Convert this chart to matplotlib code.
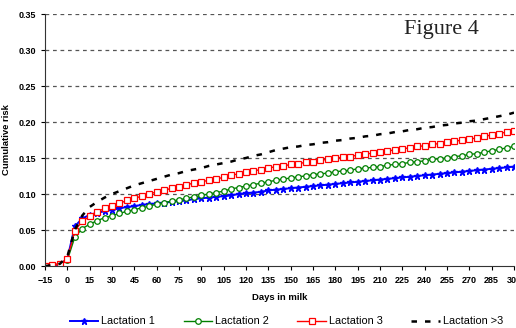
import numpy as np
import matplotlib
matplotlib.use("Agg")
from matplotlib import pyplot as plt

# days in milk, every 5 days from -15 to 300
days = list(range(-15, 301, 5))

lact1 = [0.000, 0.001, 0.002, 0.010, 0.055, 0.066, 0.071, 0.074, 0.076, 0.078,
         0.080, 0.082, 0.083, 0.085, 0.086, 0.087, 0.088, 0.089, 0.090, 0.091,
         0.093, 0.094, 0.095, 0.096, 0.097, 0.098, 0.100, 0.101, 0.102, 0.103,
         0.105, 0.106, 0.107, 0.108, 0.109, 0.110, 0.111, 0.112, 0.113, 0.114,
         0.115, 0.116, 0.117, 0.118, 0.119, 0.120, 0.121, 0.122, 0.123, 0.124,
         0.125, 0.126, 0.127, 0.128, 0.129, 0.130, 0.131, 0.132, 0.133, 0.134,
         0.135, 0.136, 0.137, 0.138]

lact2 = [0.000, 0.001, 0.003, 0.008, 0.040, 0.052, 0.058, 0.063, 0.067, 0.070,
         0.073, 0.076, 0.078, 0.081, 0.083, 0.086, 0.088, 0.090, 0.092, 0.094,
         0.096, 0.098, 0.100, 0.102, 0.104, 0.107, 0.109, 0.111, 0.113, 0.115,
         0.117, 0.119, 0.121, 0.122, 0.124, 0.125, 0.127, 0.128, 0.129, 0.131,
         0.132, 0.133, 0.135, 0.136, 0.137, 0.138, 0.140, 0.141, 0.142, 0.144,
         0.145, 0.146, 0.148, 0.149, 0.150, 0.152, 0.153, 0.155, 0.156, 0.158,
         0.160, 0.162, 0.164, 0.166]

lact3 = [0.000, 0.002, 0.003, 0.010, 0.049, 0.062, 0.069, 0.075, 0.080, 0.084,
         0.087, 0.091, 0.094, 0.097, 0.100, 0.103, 0.105, 0.108, 0.110, 0.113,
         0.115, 0.117, 0.119, 0.121, 0.123, 0.126, 0.128, 0.130, 0.132, 0.134,
         0.136, 0.138, 0.139, 0.141, 0.142, 0.144, 0.145, 0.147, 0.148, 0.150,
         0.151, 0.152, 0.154, 0.155, 0.157, 0.158, 0.160, 0.161, 0.163, 0.164,
         0.166, 0.167, 0.169, 0.170, 0.172, 0.173, 0.175, 0.176, 0.178, 0.180,
         0.182, 0.184, 0.186, 0.188]

lact4 = [0.000, 0.001, 0.003, 0.013, 0.050, 0.070, 0.082, 0.089, 0.095, 0.100,
         0.104, 0.108, 0.112, 0.115, 0.118, 0.121, 0.124, 0.127, 0.129, 0.132,
         0.134, 0.136, 0.139, 0.141, 0.143, 0.145, 0.148, 0.150, 0.153, 0.155,
         0.158, 0.161, 0.163, 0.165, 0.166, 0.168, 0.169, 0.171, 0.172, 0.174,
         0.175, 0.177, 0.178, 0.180, 0.181, 0.183, 0.184, 0.186, 0.187, 0.189,
         0.190, 0.192, 0.193, 0.195, 0.196, 0.198, 0.199, 0.201, 0.202, 0.204,
         0.206, 0.208, 0.210, 0.213]

x_ticks = list(range(-15, 301, 15))
y_ticks = [0.00, 0.05, 0.10, 0.15, 0.20, 0.25, 0.30, 0.35]

plt.rcParams['font.family'] = ['Liberation Sans', 'DejaVu Sans']

fig = plt.figure(figsize=(5.16, 3.28), dpi=100)
ax = fig.add_axes([45/516, 62/328, 469/516, 252/328])

# gridlines
for yv in y_ticks[1:]:
    ax.axhline(yv, color='#555555', lw=0.9, ls=(0, (3, 3)), zorder=0)

ax.plot(days, lact1, color='blue', lw=1.4, marker='*', ms=4.5,
        mec='blue', mfc='blue', label='Lactation 1')
ax.plot(days, lact2, color='green', lw=1.0, marker='o', ms=4,
        mfc='white', mec='green', mew=0.9, label='Lactation 2')
ax.plot(days, lact3, color='red', lw=1.0, marker='s', ms=4.8,
        mfc='white', mec='red', mew=0.9, label='Lactation 3')
ax.plot(days, lact4, color='black', lw=1.8, ls=(0, (2.2, 3.2)),
        label='Lactation >3')

ax.set_xlim(-15, 300)
ax.set_ylim(0, 0.35)
ax.set_xticks(x_ticks)
ax.set_yticks(y_ticks)
ax.set_yticklabels(['%.2f' % v for v in y_ticks])
ax.tick_params(axis='both', labelsize=6.5, length=3, width=0.8, colors='black')
ax.tick_params(axis='x', pad=4)
for lab in ax.get_xticklabels() + ax.get_yticklabels():
    lab.set_fontweight('bold')

ax.spines['top'].set_visible(False)
ax.spines['right'].set_visible(False)
ax.spines['left'].set_color('#333333')
ax.spines['bottom'].set_color('#333333')

ax.set_xlabel('Days in milk', fontsize=6.8, fontweight='bold', labelpad=6)
ax.set_ylabel('Cumulative risk', fontsize=6.8, fontweight='bold', labelpad=5)

ax.text(0.846, 0.94, 'Figure 4', transform=ax.transAxes, ha='center', va='center',
        fontsize=16, family='Liberation Serif', color='#222222',
        bbox=dict(facecolor='white', edgecolor='none', pad=1))

fig.legend(loc='lower center', bbox_to_anchor=(0.555, -0.025), ncol=4,
           fontsize=7.8, frameon=False, handlelength=2.6, columnspacing=2.65,
           handletextpad=0.3)

fig.savefig('out.png', dpi=100)
